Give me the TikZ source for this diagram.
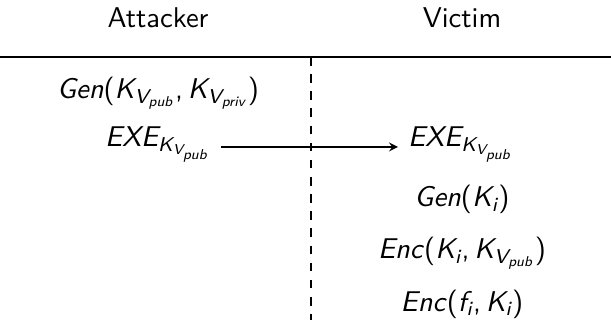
\documentclass[tikz,border=0pt]{standalone}
\usetikzlibrary{arrows}
\usetikzlibrary{positioning}
\newcommand{\kvpub}{{\itshape K}\textsubscript{{\itshape V}\textsubscript{\itshape pub}}}
\newcommand{\kvpriv}{{\itshape K}\textsubscript{{\itshape V}\textsubscript{\itshape priv}}}
\newcommand{\ki}{{\itshape K}\textsubscript{\itshape i}}

\begin{document}
\begin{tikzpicture}[x=0.35pt, y=-0.35pt, font=\sffamily]
\useasboundingbox (0,0) rectangle (611,320);
\node[anchor=base] (attacker) at (158,28) {Attacker};
\node[anchor=base] (victim) at (462,28) {Victim};
\coordinate (hleft) at (0,57);
\coordinate (hright) at (611,57);
\draw (hleft) -- (hright);
\coordinate (dtop) at (311,57);
\coordinate (dbot) at (311,320);
\draw[dashed] (dtop) -- (dbot);

\node[anchor=base] (gen) at (158,99) {\textit{Gen}(\kvpub,\,\kvpriv)};
\node[anchor=base] (exeA) at (158,147) {{\itshape EXE}\textsubscript{\kvpub}};
\node[anchor=base] (exeV) at (461,147) {{\itshape EXE}\textsubscript{\kvpub}};
\draw[-stealth] (exeA.base east) -- (exeV.base west);

\node[anchor=base] (genk) at (462,207) {\textit{Gen}(\ki)};
\node[anchor=base] (enck) at (462,259) {\textit{Enc}(\ki,\,\kvpub)};
\node[anchor=base] (encf) at (462,311) {\textit{Enc}({\itshape f}\textsubscript{\itshape i},\,\ki)};
\end{tikzpicture}
\end{document}
